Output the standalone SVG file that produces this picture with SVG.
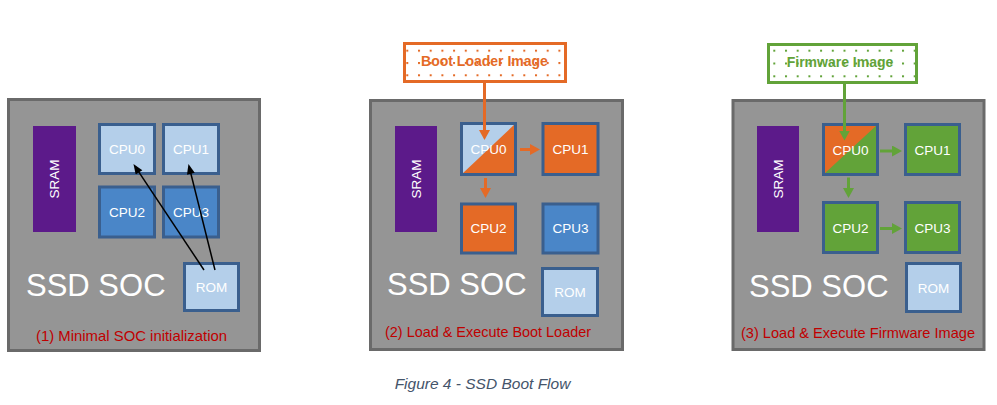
<svg xmlns="http://www.w3.org/2000/svg" width="997" height="405" viewBox="0 0 997 405">
<style>
.panel{fill:#959595;stroke:#6A6A6A;stroke-width:3}
.cpu{stroke:#3A5F8E;stroke-width:3}
.lb{fill:#B4CFEA}
.mb{fill:#4A86C8}
.or{fill:#E46A26}
.gr{fill:#62A339}
.sram{fill:#5C1A8A}
.lbl{font-family:"Liberation Sans",Arial,sans-serif;font-size:13.5px;fill:#FFFFFF;text-anchor:middle}
.soc{font-family:"Liberation Sans",Arial,sans-serif;font-size:31px;fill:#FFFFFF}
.cap{font-family:"Liberation Sans",Arial,sans-serif;font-size:14.5px;fill:#C00000}
.img{font-family:"Liberation Sans",Arial,sans-serif;font-size:14px;font-weight:bold;text-anchor:middle}
.fig{font-family:"Liberation Sans",Arial,sans-serif;font-size:15.5px;font-style:italic;fill:#44546A;text-anchor:middle}
.blk{stroke:#000000;stroke-width:1.5;fill:none}
.ora{stroke:#E46A26;stroke-width:3;fill:none}
.gra{stroke:#62A339;stroke-width:3;fill:none}
</style>
<defs>
<marker id="ahB" viewBox="0 0 10 8" markerUnits="userSpaceOnUse" markerWidth="11" markerHeight="8" refX="2" refY="4" orient="auto"><path d="M0,0 L10,4 L0,8 z" fill="#000000"/></marker>
<marker id="ahO" viewBox="0 0 10 11" markerUnits="userSpaceOnUse" markerWidth="10" markerHeight="11" refX="1" refY="5.5" orient="auto"><path d="M0,0 L10,5.5 L0,11 z" fill="#E46A26"/></marker>
<marker id="ahG" viewBox="0 0 10 11" markerUnits="userSpaceOnUse" markerWidth="10" markerHeight="11" refX="1" refY="5.5" orient="auto"><path d="M0,0 L10,5.5 L0,11 z" fill="#62A339"/></marker>
<pattern id="dotsO" patternUnits="userSpaceOnUse" x="406.3" y="49.7" width="11.7" height="12.3"><rect x="0" y="0" width="2" height="2" fill="#E46A26"/></pattern>
<pattern id="dotsG" patternUnits="userSpaceOnUse" x="773.3" y="49.7" width="11.7" height="12.8"><rect x="0" y="0" width="2" height="2" fill="#62A339"/></pattern>
</defs>

<!-- Panel 1 -->
<g id="panel1">
<rect class="panel" x="8.5" y="99.5" width="251" height="251"/>
<text class="soc" x="26" y="296">SSD SOC</text>
<text class="cap" x="36" y="341" textLength="191" lengthAdjust="spacingAndGlyphs">(1) Minimal SOC initialization</text>
</g>
<g id="p1-sram"><rect class="sram" x="33" y="126" width="43" height="106"/><text class="lbl" transform="translate(59,179) rotate(-90)">SRAM</text></g>
<g id="p1-cpu0"><rect class="cpu lb" x="99.5" y="124.5" width="55" height="49"/><text class="lbl" x="127" y="154">CPU0</text></g>
<g id="p1-cpu1"><rect class="cpu lb" x="163.5" y="124.5" width="55" height="49"/><text class="lbl" x="191" y="154">CPU1</text></g>
<g id="p1-cpu2"><rect class="cpu mb" x="99.5" y="187" width="55" height="50"/><text class="lbl" x="127" y="217">CPU2</text></g>
<g id="p1-cpu3"><rect class="cpu mb" x="163.5" y="187" width="55" height="50"/><text class="lbl" x="191" y="217">CPU3</text></g>
<g id="p1-rom"><rect class="cpu lb" x="184.5" y="263.5" width="54" height="47"/><text class="lbl" x="211.5" y="292">ROM</text></g>

<!-- Panel 2 -->
<g id="panel2">
<rect class="panel" x="370.5" y="100.5" width="252" height="249"/>
<text class="soc" x="387" y="295">SSD SOC</text>
<text class="cap" x="385" y="337" textLength="206" lengthAdjust="spacingAndGlyphs">(2) Load &amp; Execute Boot Loader</text>
</g>
<g id="p2-image"><rect x="404.5" y="43.5" width="161" height="38" fill="#FFFFFF" stroke="none"/><rect x="404.5" y="43.5" width="161" height="38" fill="url(#dotsO)" stroke="#E46A26" stroke-width="3"/><text class="img" x="484.5" y="65.5" fill="#E46A26">Boot Loader Image</text></g>
<g id="p2-sram"><rect class="sram" x="395" y="126" width="42" height="106"/><text class="lbl" transform="translate(420.5,179) rotate(-90)">SRAM</text></g>
<g id="p2-cpu0"><rect class="or" x="461.5" y="123.5" width="54" height="51"/><polygon class="lb" points="461.5,123.5 515.5,123.5 461.5,174.5"/><rect class="cpu" fill="none" x="461.5" y="123.5" width="54" height="51"/><text class="lbl" x="488.5" y="154">CPU0</text></g>
<g id="p2-cpu1"><rect class="cpu or" x="543" y="123.5" width="55" height="51"/><text class="lbl" x="570.5" y="154">CPU1</text></g>
<g id="p2-cpu2"><rect class="cpu or" x="461.5" y="204" width="54" height="49"/><text class="lbl" x="488.5" y="233">CPU2</text></g>
<g id="p2-cpu3"><rect class="cpu mb" x="543" y="204" width="55" height="49"/><text class="lbl" x="570.5" y="233">CPU3</text></g>
<g id="p2-rom"><rect class="cpu lb" x="542.5" y="268.5" width="55" height="47"/><text class="lbl" x="570" y="297">ROM</text></g>

<!-- Panel 3 -->
<g id="panel3">
<rect class="panel" x="733" y="100.5" width="251" height="249"/>
<text class="soc" x="749" y="297">SSD SOC</text>
<text class="cap" x="741" y="338" textLength="234" lengthAdjust="spacingAndGlyphs">(3) Load &amp; Execute Firmware Image</text>
</g>
<g id="p3-image"><rect x="768.5" y="44.5" width="148" height="38" fill="#FFFFFF" stroke="none"/><rect x="768.5" y="44.5" width="148" height="38" fill="url(#dotsG)" stroke="#62A339" stroke-width="3"/><text class="img" x="840" y="67" fill="#62A339">Firmware Image</text></g>
<g id="p3-sram"><rect class="sram" x="757" y="126" width="42" height="106"/><text class="lbl" transform="translate(782.5,179) rotate(-90)">SRAM</text></g>
<g id="p3-cpu0"><rect class="gr" x="823.5" y="124.5" width="54" height="50"/><polygon class="or" points="823.5,124.5 877.5,124.5 823.5,174.5"/><rect class="cpu" fill="none" x="823.5" y="124.5" width="54" height="50"/><text class="lbl" x="850.5" y="154.5">CPU0</text></g>
<g id="p3-cpu1"><rect class="cpu gr" x="905.5" y="124.5" width="54" height="50"/><text class="lbl" x="932.5" y="154.5">CPU1</text></g>
<g id="p3-cpu2"><rect class="cpu gr" x="823.5" y="202.5" width="54" height="50"/><text class="lbl" x="850.5" y="232.5">CPU2</text></g>
<g id="p3-cpu3"><rect class="cpu gr" x="905.5" y="202.5" width="54" height="50"/><text class="lbl" x="932.5" y="232.5">CPU3</text></g>
<g id="p3-rom"><rect class="cpu lb" x="906.5" y="263.5" width="54" height="48"/><text class="lbl" x="933.5" y="292.5">ROM</text></g>

<!-- Connectors -->
<g id="connectors">
<line class="blk" x1="204" y1="270" x2="137.9" y2="170.7" marker-end="url(#ahB)"/>
<line class="blk" x1="215" y1="270" x2="190.4" y2="171.8" marker-end="url(#ahB)"/>
<line class="ora" x1="484.5" y1="82" x2="484.5" y2="131" marker-end="url(#ahO)"/>
<line class="ora" x1="520" y1="149.5" x2="531" y2="149.5" marker-end="url(#ahO)"/>
<line class="ora" x1="485.5" y1="178" x2="485.5" y2="189" marker-end="url(#ahO)"/>
<line class="gra" x1="844.5" y1="84" x2="844.5" y2="131.5" marker-end="url(#ahG)"/>
<line class="gra" x1="880" y1="151" x2="893" y2="151" marker-end="url(#ahG)"/>
<line class="gra" x1="848.5" y1="177.5" x2="848.5" y2="189" marker-end="url(#ahG)"/>
<line class="gra" x1="880" y1="228.5" x2="893" y2="228.5" marker-end="url(#ahG)"/>
</g>

<text class="fig" x="482.5" y="389">Figure 4 - SSD Boot Flow</text>
</svg>
